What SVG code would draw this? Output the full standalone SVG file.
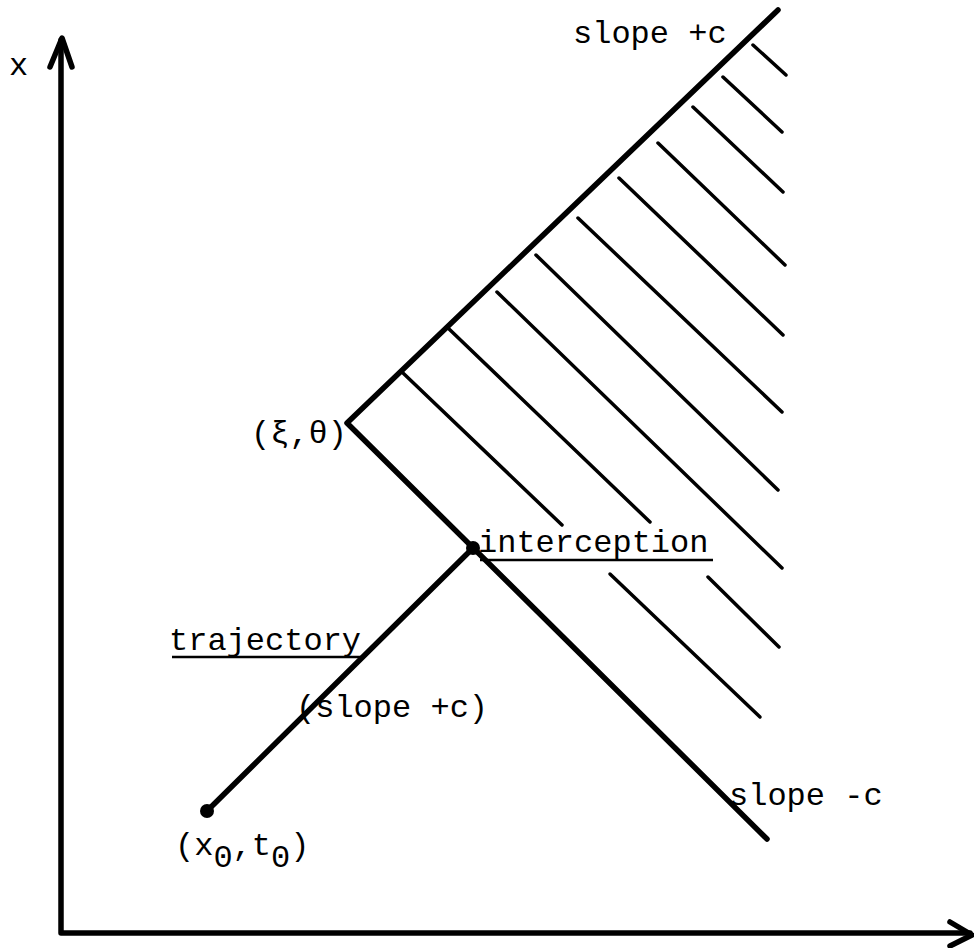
<svg xmlns="http://www.w3.org/2000/svg" width="974" height="948" viewBox="0 0 974 948">
<style>
.t{font-family:"Liberation Mono","DejaVu Sans Mono",monospace;font-size:32px;fill:#000}
.ax{stroke:#000;stroke-width:5.5;fill:none;stroke-linecap:round;stroke-linejoin:round}
.main{stroke:#000;stroke-width:5.5;fill:none;stroke-linecap:round;stroke-linejoin:round}
.h{stroke:#000;stroke-width:3.5;fill:none;stroke-linecap:round}
.u{stroke:#000;stroke-width:2.5}
</style>
<rect width="974" height="948" fill="#fff"/>
<g id="axes">
<path class="ax" d="M61,40 L61,933 L970,933"/>
<path class="ax" d="M50,67 L62,38 L72,67"/>
<path class="ax" d="M950,922 L972,935 L950,946"/>
<text class="t" x="9" y="75">x</text>
</g>
<g id="connectors">
<path class="main" d="M778,10 L347,423 L767,839"/>
<path class="main" d="M207,811 L473,548"/>
<g id="hatch">
<line class="h" x1="753" y1="45" x2="786" y2="75"/>
<line class="h" x1="723" y1="77" x2="782" y2="132"/>
<line class="h" x1="693" y1="107" x2="783" y2="192"/>
<line class="h" x1="658" y1="143" x2="785" y2="265"/>
<line class="h" x1="619" y1="178" x2="783" y2="335"/>
<line class="h" x1="578" y1="218" x2="782" y2="412"/>
<line class="h" x1="536" y1="255" x2="778" y2="490"/>
<line class="h" x1="497" y1="292" x2="782" y2="568"/>
<line class="h" x1="448" y1="328" x2="650" y2="522"/>
<line class="h" x1="403" y1="373" x2="562" y2="525"/>
<line class="h" x1="610" y1="574" x2="760" y2="717"/>
<line class="h" x1="708" y1="577" x2="779" y2="647"/>
</g>
</g>
<g id="interception">
<circle cx="473" cy="548" r="7"/>
<text class="t" x="478" y="552">interception</text>
<line class="u" x1="480" y1="560" x2="713" y2="560"/>
</g>
<g id="origin">
<circle cx="207" cy="811" r="7"/>
<text class="t" x="175" y="855">(x<tspan dy="12">0</tspan><tspan dy="-12">,t</tspan><tspan dy="12">0</tspan><tspan dy="-12">)</tspan></text>
</g>
<g id="vertex">
<text class="t" x="251" y="443">(ξ,θ)</text>
</g>
<g id="labels">
<text class="t" x="573" y="43">slope +c</text>
<text class="t" x="169" y="650">trajectory</text>
<line class="u" x1="172" y1="657" x2="362" y2="657"/>
<text class="t" x="296" y="717">(slope +c)</text>
<text class="t" x="729" y="805">slope -c</text>
</g>
</svg>
